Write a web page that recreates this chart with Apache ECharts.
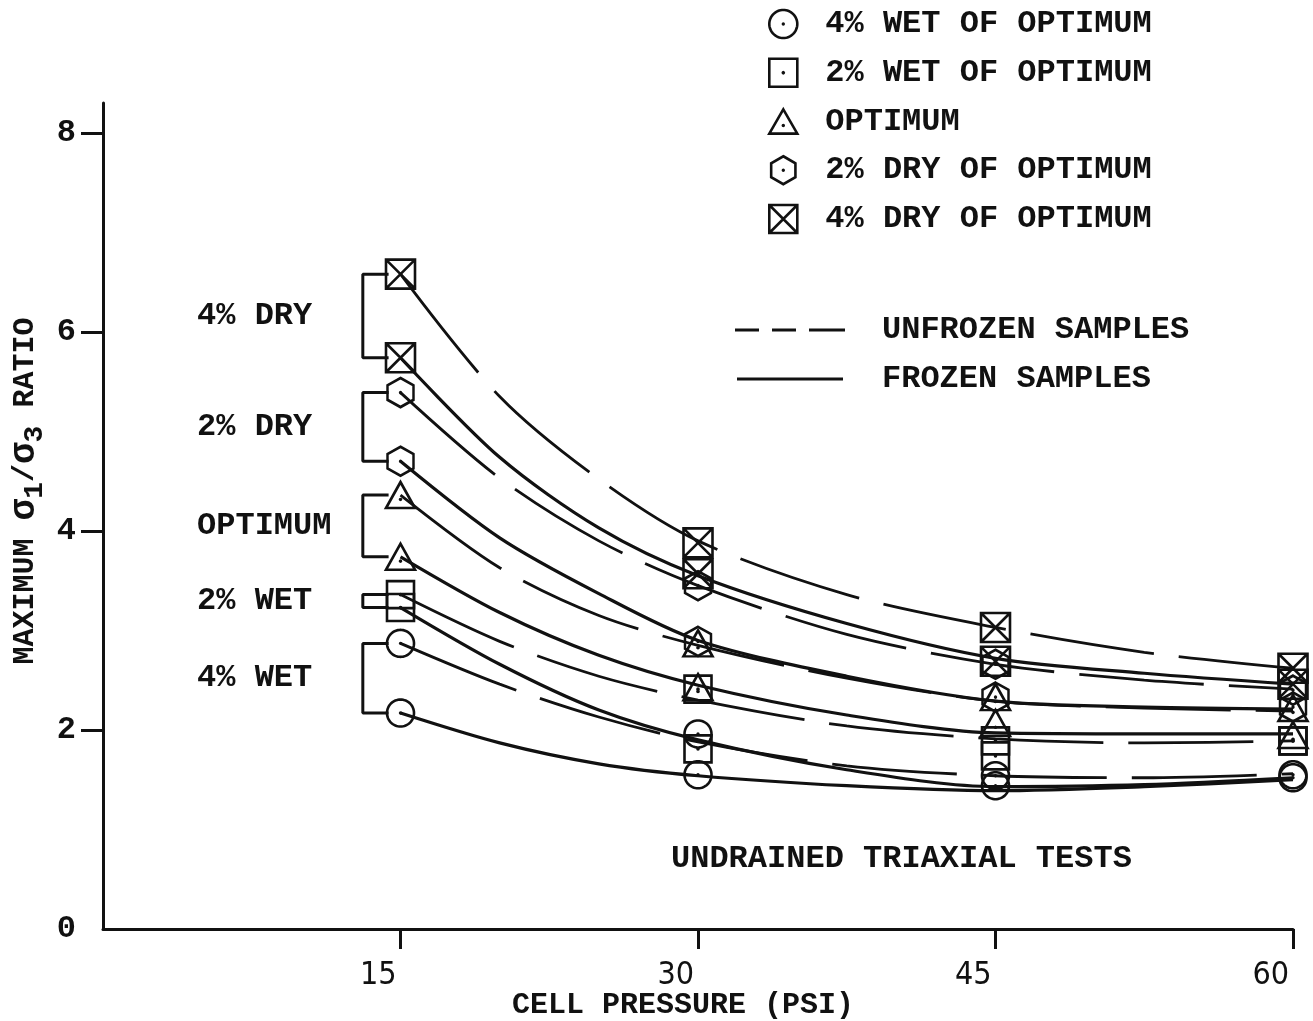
<!DOCTYPE html>
<html>
<head>
<meta charset="utf-8">
<title>Maximum σ1/σ3 ratio vs cell pressure</title>
<script src="https://cdn.jsdelivr.net/npm/echarts@6/dist/echarts.min.js"></script>
<style>
  html, body { margin: 0; padding: 0; background: #ffffff; }
  #chart { width: 1313px; height: 1021px; }
</style>
</head>
<body>
<div id="chart"></div>
<script>
// Cell pressures (psi) at which specimens were tested
const testPressures = [15, 30, 45, 60];
// Cell pressures at which the fitted curves are sampled
const curvePressures = [15, 20, 25, 30, 37.5, 45, 52.5, 60];

const conditions = ['4% WET OF OPTIMUM', '2% WET OF OPTIMUM', 'OPTIMUM', '2% DRY OF OPTIMUM', '4% DRY OF OPTIMUM'];
const groupLabels = ['4% WET', '2% WET', 'OPTIMUM', '2% DRY', '4% DRY'];
const sampleStates = ['UNFROZEN SAMPLES', 'FROZEN SAMPLES'];

const xTickValues = [15, 30, 45, 60];
const yTickValues = [0, 2, 4, 6, 8];

// Measured maximum sigma1/sigma3 at each test pressure
const wet4Unfrozen = [2.87, 1.96, 1.54, 1.55];
const wet4Frozen   = [2.17, 1.55, 1.44, 1.52];
const wet2Unfrozen = [3.36, 2.41, 1.89, 1.89];
const wet2Frozen   = [3.23, 1.81, 1.74, 1.89];
const optUnfrozen  = [4.36, 2.87, 2.33, 2.22];
const optFrozen    = [3.74, 2.43, 2.07, 1.95];
const dry2Unfrozen = [5.39, 3.45, 2.66, 2.40];
const dry2Frozen   = [4.70, 2.89, 2.33, 2.23];
const dry4Unfrozen = [6.58, 3.88, 3.03, 2.62];
const dry4Frozen   = [5.74, 3.57, 2.69, 2.46];

// Fitted trend curves, sampled at curvePressures
const wet4UnfrozenCurve = [2.87, 2.46, 2.13, 1.88, 1.64, 1.54, 1.52, 1.56];
const wet4FrozenCurve   = [2.17, 1.87, 1.66, 1.54, 1.44, 1.39, 1.43, 1.50];
const wet2UnfrozenCurve = [3.36, 2.89, 2.54, 2.30, 2.04, 1.91, 1.87, 1.89];
const wet2FrozenCurve   = [3.23, 2.66, 2.20, 1.90, 1.60, 1.43, 1.45, 1.52];
const optUnfrozenCurve  = [4.36, 3.63, 3.15, 2.85, 2.52, 2.29, 2.22, 2.19];
const optFrozenCurve    = [3.74, 3.18, 2.75, 2.45, 2.15, 1.97, 1.96, 1.96];
const dry2UnfrozenCurve = [5.39, 4.53, 3.90, 3.45, 2.96, 2.66, 2.50, 2.41];
const dry2FrozenCurve   = [4.70, 3.93, 3.37, 2.90, 2.54, 2.29, 2.23, 2.21];
const dry4UnfrozenCurve = [6.58, 5.35, 4.52, 3.90, 3.36, 3.03, 2.78, 2.62];
const dry4FrozenCurve   = [5.74, 4.74, 4.03, 3.55, 3.07, 2.72, 2.57, 2.46];

const pointsByCondition = [
  [wet4Unfrozen, wet4Frozen],
  [wet2Unfrozen, wet2Frozen],
  [optUnfrozen, optFrozen],
  [dry2Unfrozen, dry2Frozen],
  [dry4Unfrozen, dry4Frozen]
];
const curvesByCondition = [
  [wet4UnfrozenCurve, wet4FrozenCurve],
  [wet2UnfrozenCurve, wet2FrozenCurve],
  [optUnfrozenCurve, optFrozenCurve],
  [dry2UnfrozenCurve, dry2FrozenCurve],
  [dry4UnfrozenCurve, dry4FrozenCurve]
];

// ---- styling ----
const INK = '#111111';
const CLEAR = 'rgba(0,0,0,0)';
const MONO = "'Liberation Mono', 'DejaVu Sans Mono', monospace";
const NARROW = "'Liberation Sans Narrow', 'DejaVu Sans Condensed', 'DejaVu Sans', sans-serif";
const DASH = [125, 25];
const BRACKET_X = 13.1;   // x (psi) of the vertical bracket bars
const BRACKET_TIP = 14.4; // where the bracket arms stop, just left of the markers
const LABEL_X = 4.74;     // left edge of the group names

// ---- hollow marker outlines (stroked), with a centre dot ----
function fmt(p) { return p[0].toFixed(2) + ',' + p[1].toFixed(2); }
function polyD(points) { return 'M' + points.map(fmt).join('L') + 'Z'; }
function regular(n, startDeg, rad) {
  const out = [];
  for (let i = 0; i < n; i++) {
    const t = (startDeg + 360 * i / n) * Math.PI / 180;
    out.push([50 + rad * Math.cos(t), 50 + rad * Math.sin(t)]);
  }
  return out;
}
const centreDot = polyD(regular(8, 0, 1.2));

const circleSym   = 'path://' + polyD(regular(64, 0, 50)) + centreDot;
const squareSym   = 'path://' + polyD(regular(4, 45, 50)) + centreDot;
const triangleSym = 'path://' + polyD(regular(3, -90, 50)) + centreDot;
const hexagonSym  = 'path://' + polyD(regular(6, -90, 50)) + centreDot;
const boxXSym = (function () {
  const L = 50 - 35.36, H = 50 + 35.36;
  return 'path://' + polyD(regular(4, 45, 50)) +
    'M' + fmt([L, L]) + 'L' + fmt([H, H]) + 'M' + fmt([H, L]) + 'L' + fmt([L, H]);
})();

const markerSymbols = [circleSym, squareSym, triangleSym, hexagonSym, boxXSym];
const markerSizes = [27, 27, [29, 26], [26, 29], 29];
const markerStyle = { color: CLEAR, borderColor: INK, borderWidth: 2.6, opacity: 1 };

const dashIcon = 'path://M0,0H24V3H0Z M37,0H61V3H37Z M74,0H110V3H74Z';
const solidIcon = 'path://M0,0H106V3H0Z';

// ---- series ----
const series = [];

conditions.forEach(function (cond, i) {
  // fitted curves: dashed = unfrozen, solid = frozen
  [0, 1].forEach(function (s) {
    series.push({
      type: 'line',
      name: sampleStates[s],
      data: curvePressures.map(function (p, k) { return [p, curvesByCondition[i][s][k]]; }),
      smooth: 0.3,
      symbol: 'none',
      itemStyle: { color: INK, opacity: 1 },
      lineStyle: { color: INK, width: s === 0 ? 2.8 : 3.2, type: s === 0 ? DASH : 'solid' },
      z: 2,
      silent: true
    });
  });
  // measured points
  [0, 1].forEach(function (s) {
    series.push({
      type: 'scatter',
      name: cond,
      data: testPressures.map(function (p, k) { return [p, pointsByCondition[i][s][k]]; }),
      symbol: markerSymbols[i],
      symbolSize: markerSizes[i],
      itemStyle: markerStyle,
      z: 4,
      silent: true
    });
  });
  // bracket joining the unfrozen and frozen results at the first test pressure
  const u = pointsByCondition[i][0][0], f = pointsByCondition[i][1][0];
  series.push({
    type: 'line',
    name: 'bracket ' + groupLabels[i],
    data: [[BRACKET_TIP, u], [BRACKET_X, u], [BRACKET_X, f], [BRACKET_TIP, f]],
    symbol: 'none',
    lineStyle: { color: INK, width: 3 },
    z: 3,
    silent: true
  });
  // group name beside the bracket
  series.push({
    type: 'scatter',
    name: 'group ' + groupLabels[i],
    data: [[LABEL_X, (u + f) / 2]],
    symbolSize: 0.1,
    itemStyle: { color: INK, opacity: 1 },
    label: {
      show: true,
      position: 'right',
      distance: 0,
      formatter: groupLabels[i],
      color: INK,
      opacity: 1,
      fontFamily: MONO,
      fontWeight: 'bold',
      fontSize: 32
    },
    silent: true
  });
});

const option = {
  animation: false,
  backgroundColor: '#ffffff',
  grid: { left: 103, right: 20, top: 103, bottom: 92, containLabel: false, outerBoundsMode: 'none' },
  xAxis: {
    type: 'value',
    min: 0,
    max: 60,
    interval: 15,
    axisLine: { show: true, lineStyle: { color: INK, width: 3 } },
    axisTick: { show: true, inside: false, length: 20, customValues: xTickValues, lineStyle: { color: INK, width: 3 } },
    axisLabel: {
      customValues: xTickValues,
      align: 'right',
      padding: [0, 4, 0, 0],
      margin: 31,
      color: INK,
      fontFamily: NARROW,
      fontSize: 32
    },
    splitLine: { show: false },
    name: 'CELL PRESSURE (PSI)',
    nameLocation: 'middle',
    nameMoveOverlap: false,
    nameGap: 61,
    nameTextStyle: { color: INK, fontFamily: MONO, fontWeight: 'bold', fontSize: 30, padding: [0, 30, 0, 0] }
  },
  yAxis: {
    type: 'value',
    min: 0,
    max: 8.3,
    interval: 2,
    axisLine: { show: true, lineStyle: { color: INK, width: 3 } },
    axisTick: { show: true, inside: false, length: 22, customValues: [2, 4, 6, 8], lineStyle: { color: INK, width: 3 } },
    axisLabel: {
      customValues: yTickValues,
      margin: 27,
      color: INK,
      fontFamily: MONO,
      fontWeight: 'bold',
      fontSize: 32
    },
    splitLine: { show: false },
    name: '{t|MAXIMUM }{g|σ}{s|1}{t|/}{g|σ}{s|3}{t| RATIO}',
    nameLocation: 'middle',
    nameRotate: 90,
    nameMoveOverlap: false,
    nameGap: 54,
    nameTextStyle: {
      color: INK,
      padding: [0, 0, 0, 50],
      rich: {
        t: { fontFamily: MONO, fontWeight: 'bold', fontSize: 30, color: INK },
        g: { fontFamily: MONO, fontWeight: 'bold', fontSize: 36, color: INK },
        s: { fontFamily: MONO, fontWeight: 'bold', fontSize: 28, color: INK, padding: [20, 0, 0, 0] }
      }
    }
  },
  legend: [
    {
      orient: 'vertical',
      left: 763,
      top: 3,
      itemWidth: 28,
      itemHeight: 28,
      itemGap: 16.75,
      selectedMode: false,
      itemStyle: markerStyle,
      data: conditions.map(function (c, i) { return { name: c, icon: markerSymbols[i], itemStyle: markerStyle }; }),
      textStyle: { color: INK, fontFamily: MONO, fontWeight: 'bold', fontSize: 32, padding: [0, 0, 0, 23] }
    },
    {
      orient: 'vertical',
      left: 730,
      top: 309,
      itemWidth: 110,
      itemHeight: 3,
      itemGap: 17,
      selectedMode: false,
      data: [
        { name: sampleStates[0], icon: dashIcon },
        { name: sampleStates[1], icon: solidIcon }
      ],
      textStyle: { color: INK, fontFamily: MONO, fontWeight: 'bold', fontSize: 32, padding: [0, 0, 0, 32] }
    }
  ],
  graphic: [
    {
      type: 'text',
      left: 671,
      top: 843,
      style: { text: 'UNDRAINED TRIAXIAL TESTS', fill: INK, font: 'bold 32px ' + MONO }
    }
  ],
  series: series
};

const chart = echarts.init(document.getElementById('chart'), null, { renderer: 'canvas' });
chart.setOption(option);
</script>
</body>
</html>
